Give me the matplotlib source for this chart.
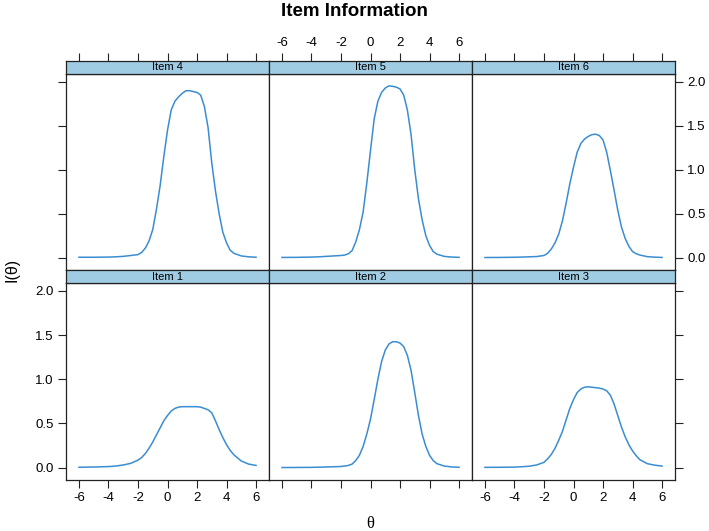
# Item information curves, 2x3 lattice-style panels
import numpy as np
import matplotlib
matplotlib.use("Agg")
import matplotlib.pyplot as plt

# 0. data
theta = [-6, -5, -4, -3.5, -3, -2.5, -2, -1.75, -1.5, -1.25, -1, -0.75, -0.5, -0.25,
         0, 0.25, 0.5, 0.75, 1, 1.25, 1.5, 1.75, 2, 2.25, 2.5, 2.75, 3, 3.25, 3.5,
         3.75, 4, 4.25, 4.5, 5, 5.5, 6]

item1 = [0.004, 0.007, 0.012, 0.018, 0.03, 0.048, 0.085, 0.115, 0.16, 0.22, 0.29, 0.37,
         0.45, 0.53, 0.59, 0.64, 0.67, 0.685, 0.69, 0.69, 0.69, 0.69, 0.69, 0.685, 0.67,
         0.655, 0.62, 0.53, 0.43, 0.34, 0.26, 0.195, 0.145, 0.075, 0.04, 0.025]
item2 = [0.001, 0.002, 0.003, 0.005, 0.007, 0.01, 0.013, 0.018, 0.025, 0.04, 0.08, 0.14,
         0.24, 0.38, 0.55, 0.77, 1.0, 1.2, 1.33, 1.40, 1.425, 1.425, 1.41, 1.37, 1.27,
         1.10, 0.85, 0.59, 0.38, 0.24, 0.14, 0.08, 0.045, 0.018, 0.008, 0.004]
item3 = [0.003, 0.004, 0.006, 0.01, 0.016, 0.03, 0.06, 0.10, 0.15, 0.22, 0.31, 0.41,
         0.54, 0.67, 0.77, 0.85, 0.89, 0.91, 0.915, 0.91, 0.905, 0.90, 0.89, 0.87, 0.82,
         0.72, 0.59, 0.46, 0.35, 0.26, 0.19, 0.135, 0.09, 0.045, 0.028, 0.018]
item4 = [0.005, 0.005, 0.007, 0.01, 0.015, 0.025, 0.035, 0.06, 0.11, 0.19, 0.32, 0.55,
         0.82, 1.15, 1.45, 1.68, 1.78, 1.83, 1.87, 1.90, 1.90, 1.89, 1.88, 1.85, 1.72,
         1.48, 1.08, 0.76, 0.50, 0.29, 0.17, 0.085, 0.05, 0.02, 0.01, 0.005]
item5 = [0.003, 0.004, 0.007, 0.01, 0.015, 0.02, 0.025, 0.03, 0.045, 0.08, 0.18, 0.32,
         0.52, 0.85, 1.22, 1.58, 1.78, 1.88, 1.93, 1.955, 1.95, 1.94, 1.92, 1.85, 1.68,
         1.40, 1.00, 0.67, 0.43, 0.25, 0.14, 0.07, 0.04, 0.015, 0.007, 0.004]
item6 = [0.002, 0.003, 0.005, 0.007, 0.01, 0.013, 0.025, 0.05, 0.10, 0.17, 0.27, 0.42,
         0.62, 0.84, 1.03, 1.2, 1.30, 1.35, 1.38, 1.40, 1.405, 1.39, 1.34, 1.20, 0.99,
         0.77, 0.54, 0.35, 0.22, 0.13, 0.07, 0.045, 0.03, 0.012, 0.006, 0.003]

# panel layout: top row items 4-6, bottom row items 1-3
rows = [[("Item 4", item4), ("Item 5", item5), ("Item 6", item6)],
        [("Item 1", item1), ("Item 2", item2), ("Item 3", item3)]]

x_ticks = [-6, -4, -2, 0, 2, 4, 6]
y_ticks = [0.0, 0.5, 1.0, 1.5, 2.0]

line_color = "#3a8dd0"
strip_color = "#9fcbe3"

plt.rcParams['font.family'] = ['Liberation Sans', 'DejaVu Sans']

# 1. figure and panel geometry (pixels of a 709x531 canvas)
W, H = 709, 531
fig = plt.figure(figsize=(W / 100, H / 100), dpi=100)

col_x = [66, 269, 472]
col_w = 203
strip_h = 13
row_top = [74, 283]      # top of panel (below strip)
row_h = [196, 197]

tick_len = 5.8
tick_fs = 9.5
for r in range(2):
    for c in range(3):
        name, vals = rows[r][c]
        x0 = col_x[c] / W
        w = col_w / W
        y0 = 1 - (row_top[r] + row_h[r]) / H
        h = row_h[r] / H
        ax = fig.add_axes([x0, y0, w, h])
        ax.plot(theta, vals, color=line_color, lw=1.1)
        ax.set_xlim(-6.88, 6.88)
        ax.set_ylim(-0.14, 2.09)
        for s in ax.spines.values():
            s.set_color("#222222")
            s.set_linewidth(0.9)

        # y axis: left column / right column only
        ax.set_yticks(y_ticks)
        ax.tick_params(axis='y', direction='out', length=tick_len, width=0.8,
                       labelsize=tick_fs, pad=3, color="#222222",
                       left=(c == 0), labelleft=(c == 0 and r == 1),
                       right=(c == 2), labelright=(c == 2 and r == 0))
        ax.set_yticklabels([f"{v:.1f}" for v in y_ticks])

        # x axis: bottom ticks only on bottom row
        ax.set_xticks(x_ticks)
        ax.set_xticklabels([str(v) for v in x_ticks])
        ax.tick_params(axis='x', direction='out', length=tick_len, width=0.8,
                       labelsize=tick_fs, pad=3, color="#222222",
                       top=False, labeltop=False,
                       bottom=(r == 1), labelbottom=(r == 1 and c != 1))

        # 2. strip above the panel
        sy0 = 1 - row_top[r] / H
        sax = fig.add_axes([x0, sy0, w, strip_h / H])
        sax.set_facecolor(strip_color)
        sax.set_xlim(-6.88, 6.88)
        sax.set_ylim(0, 1)
        sax.text(0.5, 0.5, name, transform=sax.transAxes, ha='center',
                 va='center', fontsize=8)
        for s in sax.spines.values():
            s.set_color("#222222")
            s.set_linewidth(0.9)
        sax.set_yticks([])
        sax.set_xticks(x_ticks)
        sax.set_xticklabels([str(v) for v in x_ticks])
        sax.tick_params(axis='x', direction='out', length=tick_len, width=0.8,
                        labelsize=tick_fs, pad=3, color="#222222",
                        bottom=False, labelbottom=False,
                        top=(r == 0), labeltop=(r == 0 and c == 1))

# 3. titles
fig.text(0.5, 1 - 12 / H, "Item Information", ha='center', va='center',
         fontsize=13.5, fontweight='bold')
fig.text(370 / W, 1 - 524 / H, "θ", ha='center', va='center', fontsize=12,
         family=['Liberation Serif', 'DejaVu Serif'])
fig.text(12 / W, 1 - 270 / H, "I(θ)", ha='center', va='center', fontsize=11.5,
         rotation=90)

# 4. save
fig.savefig("out.png", dpi=100)
